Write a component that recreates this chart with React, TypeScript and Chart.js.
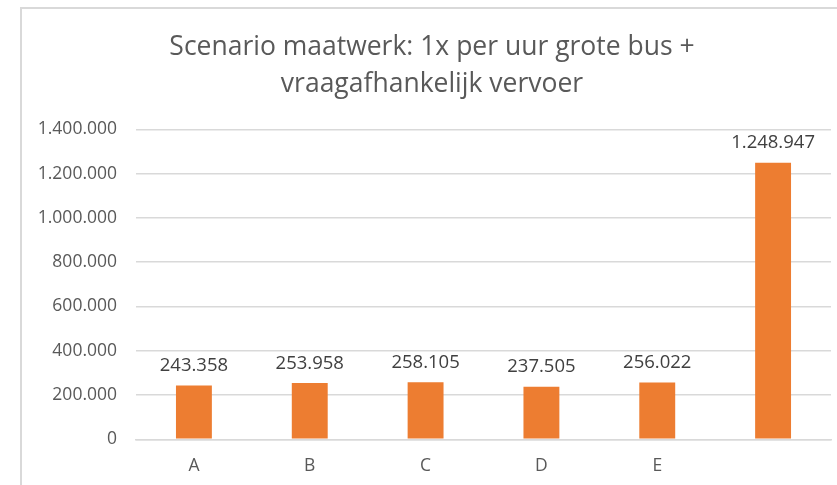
import React, { useEffect, useRef } from "react";
import { Chart, registerables } from "chart.js";

Chart.register(...registerables);

const titleLines = ["Scenario maatwerk: 1x per uur grote bus +", "vraagafhankelijk vervoer"];
const categories = ["A", "B", "C", "D", "E", ""];
const values = [243358, 253958, 258105, 237505, 256022, 1248947];
const yMin = 0;
const yMax = 1400000;
const yStep = 200000;

const FONT = "'Open Sans', 'Liberation Sans', sans-serif";

function formatNL(v: number): string {
  const s = Math.round(Math.abs(v)).toString();
  const withDots = s.replace(/\B(?=(\d{3})+(?!\d))/g, ".");
  return (v < 0 ? "-" : "") + withDots;
}

const framePlugin = {
  id: "frame",
  beforeDraw(chart: any) {
    const ctx = chart.ctx;
    ctx.save();
    ctx.fillStyle = "#ffffff";
    ctx.fillRect(0, 0, chart.width, chart.height);
    ctx.fillStyle = "#D9D9D9";
    ctx.fillRect(20, 7, 2, chart.height - 7);
    ctx.fillRect(20, 7, chart.width - 20, 2);
    // title
    ctx.fillStyle = "#595959";
    ctx.font = `26.5px ${FONT}`;
    ctx.textAlign = "center";
    ctx.textBaseline = "middle";
    const cx = 432;
    titleLines.forEach((line, i) => {
      ctx.fillText(line, cx, 47 + i * 37);
    });
    ctx.restore();
  },
};

const valueLabelPlugin = {
  id: "valueLabels",
  afterDatasetsDraw(chart: any) {
    const ctx = chart.ctx;
    const meta = chart.getDatasetMeta(0);
    ctx.save();
    ctx.font = `18.5px ${FONT}`;
    ctx.fillStyle = "#404040";
    ctx.textAlign = "center";
    ctx.textBaseline = "alphabetic";
    meta.data.forEach((bar: any, i: number) => {
      const v = chart.data.datasets[0].data[i] as number;
      ctx.fillText(formatNL(v), bar.x, bar.y - 14.5);
    });
    ctx.restore();
  },
};

export default function App() {
  const canvasRef = useRef<HTMLCanvasElement | null>(null);

  useEffect(() => {
    if (!canvasRef.current) return;
    const chart = new Chart(canvasRef.current, {
      type: "bar",
      data: {
        labels: categories,
        datasets: [
          {
            data: values,
            backgroundColor: "#ED7D31",
            borderWidth: 0,
            categoryPercentage: 1,
            barPercentage: 0.31,
          },
        ],
      },
      options: {
        responsive: false,
        animation: false,
        devicePixelRatio: 1,
        layout: { padding: { left: 0, right: 6, top: 129.3, bottom: 0 } },
        plugins: {
          legend: { display: false },
          tooltip: { enabled: false },
          title: { display: false },
        },
        scales: {
          x: {
            grid: { display: false, drawTicks: false },
            border: { display: true, color: "#D9D9D9", width: 1.5 },
            ticks: {
              color: "#595959",
              font: { family: FONT, size: 17.5 },
              padding: 16,
            },
            afterFit(scale: any) {
              scale.height = 485 - 439.3;
            },
          },
          y: {
            min: yMin,
            max: yMax,
            grid: { color: "#D9D9D9", lineWidth: 1.5, drawTicks: false },
            border: { display: false },
            ticks: {
              stepSize: yStep,
              color: "#595959",
              font: { family: FONT, size: 17.5 },
              padding: 19,
              callback: (v: any) => formatNL(Number(v)),
            },
            afterFit(scale: any) {
              scale.width = 136;
            },
          },
        },
      },
      plugins: [framePlugin, valueLabelPlugin],
    });
    return () => chart.destroy();
  }, []);

  return (
    <div style={{ position: "fixed", left: 0, top: 0, width: 837, height: 485, background: "#fff" }}>
      <canvas ref={canvasRef} width={837} height={485} style={{ display: "block" }} />
    </div>
  );
}
